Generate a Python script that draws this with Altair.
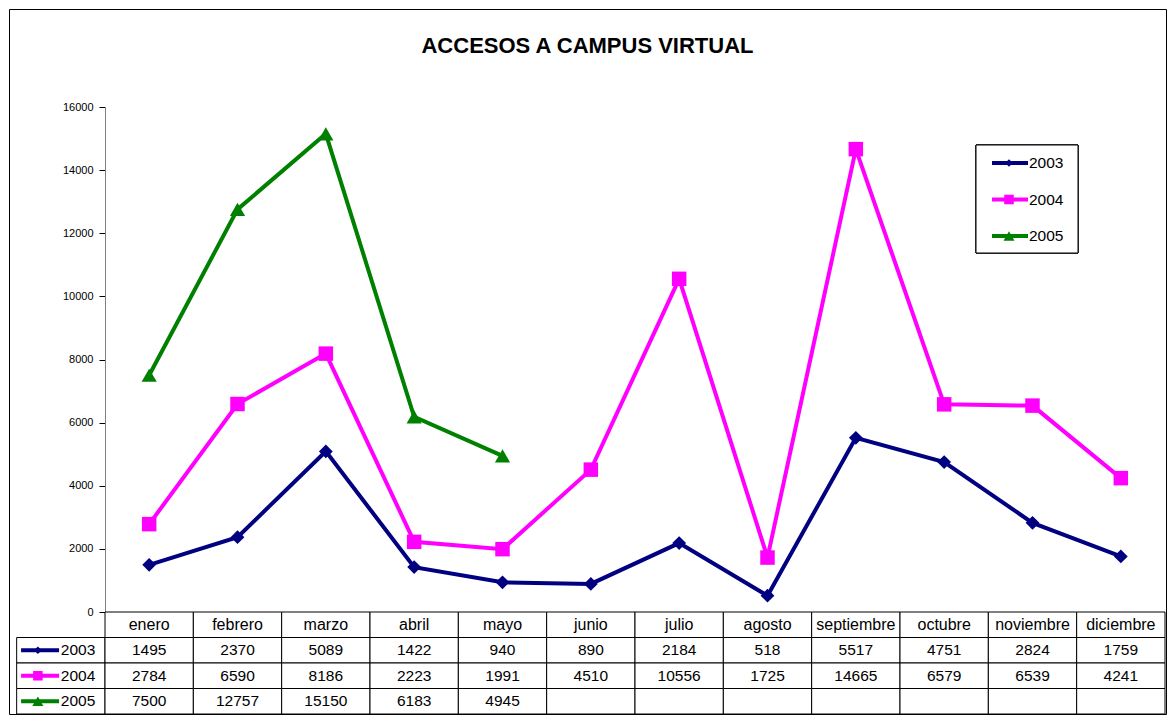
import altair as alt
import pandas as pd

# ---------------- data ----------------
months = ["enero", "febrero", "marzo", "abril", "mayo", "junio", "julio",
          "agosto", "septiembre", "octubre", "noviembre", "diciembre"]
years = ["2003", "2004", "2005"]
v2003 = [1495, 2370, 5089, 1422, 940, 890, 2184, 518, 5517, 4751, 2824, 1759]
v2004 = [2784, 6590, 8186, 2223, 1991, 4510, 10556, 1725, 14665, 6579, 6539, 4241]
v2005 = [7500, 12757, 15150, 6183, 4945]
y_ticks = [0, 2000, 4000, 6000, 8000, 10000, 12000, 14000, 16000]
title_text = "ACCESOS A CAMPUS VIRTUAL"

colors = ["#000080", "#FF00FF", "#008000"]
shapes = ["diamond", "square", "triangle-up"]
FONT = "Liberation Sans"

series = [v2003, v2004, v2005]
line_rows = []
for yr, vals in zip(years, series):
    for i, v in enumerate(vals):
        line_rows.append({"year": yr, "month": months[i], "idx": i, "value": v})
df_lines = pd.DataFrame(line_rows)

label_col = "_"
cols = [label_col] + months
rows = ["hdr"] + years

cell_rows = [{"col": m, "row": "hdr"} for m in months]
cell_rows += [{"col": c, "row": yr} for yr in years for c in cols]
df_cells = pd.DataFrame(cell_rows)

df_head = pd.DataFrame({"col": months, "row": ["hdr"] * 12, "label": months})
val_rows = []
for yr, vals in zip(years, series):
    for i, v in enumerate(vals):
        val_rows.append({"col": months[i], "row": yr, "label": str(v)})
df_vals = pd.DataFrame(val_rows)

df_keys = pd.DataFrame({"row": years, "year": years})

# ---------------- geometry (pixels inside the view) ----------------
PX0, PX1 = 96, 1156          # plot area left / right
PY0, PY1 = 603, 98           # plot area bottom / top
STEP = (PX1 - PX0) / 12
TY0, TY1 = 603, 705          # table top / bottom

X_PLOT = alt.Scale(type="point", domain=months, range=[PX0, PX1], padding=0.5)
Y_PLOT = alt.Scale(domain=[0, 16000], range=[PY0, PY1], nice=False, zero=True)
X_TAB = alt.Scale(type="band", domain=cols, range=[PX0 - STEP, PX1], paddingInner=0, paddingOuter=0)
Y_TAB = alt.Scale(type="band", domain=rows, range=[TY0, TY1], paddingInner=0, paddingOuter=0)
X_KEY = alt.Scale(domain=[0, 1], range=[PX0 - STEP, PX0], nice=False, zero=False)
Y_LEG = alt.Scale(type="point", domain=years, range=[154, 227], padding=0)

color = alt.Color("year:N", scale=alt.Scale(domain=years, range=colors), legend=None)
shape = alt.Shape("year:N", scale=alt.Scale(domain=years, range=shapes), legend=None)
key_size = alt.Size("year:N", scale=alt.Scale(domain=years, range=[60, 121, 64]), legend=None)

# ---------------- table ----------------
cells = alt.Chart(df_cells).mark_rect(fill="white", stroke="black", strokeWidth=1).encode(
    x=alt.X("col:N", scale=X_TAB, axis=None),
    y=alt.Y("row:N", scale=Y_TAB, axis=None),
)

head_text = alt.Chart(df_head).mark_text(font=FONT, fontSize=16, color="black", baseline="middle").encode(
    x=alt.X("col:N", scale=X_TAB, axis=None, bandPosition=0.5),
    y=alt.Y("row:N", scale=Y_TAB, axis=None, bandPosition=0.5),
    text=alt.Text("label:N"),
)
val_text = alt.Chart(df_vals).mark_text(font=FONT, fontSize=15.5, color="black", baseline="middle").encode(
    x=alt.X("col:N", scale=X_TAB, axis=None, bandPosition=0.5),
    y=alt.Y("row:N", scale=Y_TAB, axis=None, bandPosition=0.5),
    text=alt.Text("label:N"),
)

key_lines = alt.Chart(df_keys).mark_rule(strokeWidth=4, opacity=1).encode(
    x=alt.X(datum=0.05, type="quantitative", scale=X_KEY, axis=None),
    x2=alt.X2(datum=0.48),
    y=alt.Y("row:N", scale=Y_TAB, axis=None, bandPosition=0.5),
    color=color,
)
key_points = alt.Chart(df_keys).mark_point(filled=True, opacity=1).encode(
    x=alt.X(datum=0.24, type="quantitative", scale=X_KEY, axis=None),
    y=alt.Y("row:N", scale=Y_TAB, axis=None, bandPosition=0.5),
    color=color,
    shape=shape,
    size=key_size,
)
key_text = alt.Chart(df_keys).mark_text(font=FONT, fontSize=15.5, color="black", align="left",
                                        baseline="middle").encode(
    x=alt.X(datum=0.5, type="quantitative", scale=X_KEY, axis=None),
    y=alt.Y("row:N", scale=Y_TAB, axis=None, bandPosition=0.5),
    text=alt.Text("year:N"),
)

# ---------------- plot ----------------
lines = alt.Chart(df_lines).mark_line(strokeWidth=4).encode(
    x=alt.X("month:N", scale=X_PLOT, sort=months, axis=None),
    y=alt.Y("value:Q", scale=Y_PLOT, axis=alt.Axis(
        values=y_ticks, format="d", orient="left", offset=-PX0, title=None, grid=False,
        domainColor="#808080", domainWidth=1, tickColor="black", tickSize=6,
        labelFont=FONT, labelFontSize=11, labelColor="black", labelPadding=6)),
    color=color,
    order=alt.Order("idx:Q"),
)
points = alt.Chart(df_lines).mark_point(filled=True, opacity=1).encode(
    x=alt.X("month:N", scale=X_PLOT, sort=months, axis=None),
    y=alt.Y("value:Q", scale=Y_PLOT, axis=None),
    color=color,
    shape=shape,
    size=alt.Size("year:N", scale=alt.Scale(domain=years, range=[190, 230, 80]), legend=None),
)

# ---------------- legend ----------------
df_leg = pd.DataFrame({"year": years})
leg_box = alt.Chart(df_leg).mark_rect(fill="white", stroke="black", strokeWidth=1).encode(
    x=alt.value(967), x2=alt.value(1069), y=alt.value(136), y2=alt.value(244),
)
leg_lines = alt.Chart(df_leg).mark_rule(strokeWidth=4, opacity=1).encode(
    x=alt.value(983), x2=alt.value(1019),
    y=alt.Y("year:N", scale=Y_LEG, axis=None),
    color=color,
)
leg_points = alt.Chart(df_leg).mark_point(filled=True, opacity=1).encode(
    x=alt.value(1000),
    y=alt.Y("year:N", scale=Y_LEG, axis=None),
    color=color,
    shape=shape,
    size=key_size,
)
leg_text = alt.Chart(df_leg).mark_text(font=FONT, fontSize=15.5, color="black", align="left",
                                       baseline="middle").encode(
    x=alt.value(1020),
    y=alt.Y("year:N", scale=Y_LEG, axis=None),
    text=alt.Text("year:N"),
)

chart = alt.layer(
    cells, head_text, val_text, key_lines, key_points, key_text,
    lines, points,
    leg_box, leg_lines, leg_points, leg_text,
).resolve_scale(
    x="independent", y="independent", size="independent"
).properties(
    width=1157,
    height=705,
    autosize=alt.AutoSizeParams(type="none"),
    padding={"left": 1, "top": 1, "right": 1, "bottom": 1},
    background="white",
    title=alt.TitleParams(text=title_text, font=FONT, fontSize=22, fontWeight="bold",
                          color="black", anchor="middle", frame="group", offset=-49),
).configure_view(stroke="black", strokeWidth=1)

chart.save("out.html", embed_options={"renderer": "svg", "actions": False})
